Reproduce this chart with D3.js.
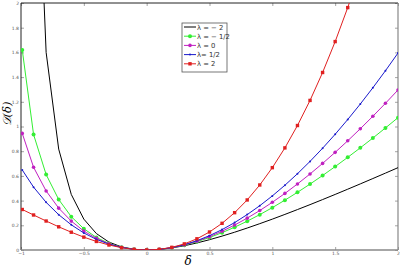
<!DOCTYPE html>
<html>
<head>
<meta charset="utf-8">
<script src="https://cdn.jsdelivr.net/npm/d3@7"></script>
<style>
  body { margin: 0; background: #fff; }
  .tick text { fill: #555; font-family: "DejaVu Sans", sans-serif; font-size: 4.5px; }
</style>
</head>
<body>
<div class="chart"></div>
<script>
var delta = [-0.99, -0.9, -0.8, -0.7, -0.6, -0.5, -0.4, -0.3, -0.2, -0.1, 0,
             0.1, 0.2, 0.3, 0.4, 0.5, 0.6, 0.7, 0.8, 0.9, 1.0,
             1.1, 1.2, 1.3, 1.4, 1.5, 1.6, 1.7, 1.8, 1.9, 2.0];

var lamM2 = [49.0, 4.05, 1.6, 0.817, 0.45, 0.25, 0.133, 0.064, 0.025, 0.0056, 0,
             0.0045, 0.0167, 0.0346, 0.0571, 0.0833, 0.1125, 0.1441, 0.1778, 0.2132, 0.25,
             0.2881, 0.3273, 0.3674, 0.4083, 0.45, 0.4923, 0.5352, 0.5786, 0.6224, 0.6667];

var lamMHalf = [1.62, 0.935, 0.611, 0.409, 0.270, 0.172, 0.102, 0.053, 0.022, 0.0053, 0,
                0.0048, 0.0182, 0.0393, 0.0671, 0.101, 0.1404, 0.1846, 0.2334, 0.2864, 0.3431,
                0.4035, 0.467, 0.5337, 0.6032, 0.6754, 0.7502, 0.8273, 0.9067, 0.9882, 1.0718];

var lam0 = [0.944, 0.670, 0.478, 0.339, 0.234, 0.153, 0.094, 0.050, 0.0215, 0.0052, 0,
            0.0048, 0.0188, 0.0411, 0.0711, 0.1082, 0.152, 0.2021, 0.258, 0.3195, 0.3863,
            0.4581, 0.5346, 0.6157, 0.7011, 0.7907, 0.8843, 0.9818, 1.0829, 1.1877, 1.2958];

var lamHalf = [0.648, 0.509, 0.386, 0.286, 0.204, 0.138, 0.086, 0.0475, 0.0207, 0.0051, 0,
               0.0049, 0.0194, 0.043, 0.0753, 0.1162, 0.1651, 0.222, 0.2866, 0.3586, 0.4379,
               0.5243, 0.6175, 0.7175, 0.8241, 0.9371, 1.0565, 1.1821, 1.3137, 1.4514, 1.5949];

var lam2 = [0.328, 0.2835, 0.2347, 0.1878, 0.144, 0.1042, 0.0693, 0.0405, 0.0187, 0.0048, 0,
            0.0052, 0.0213, 0.0495, 0.0907, 0.1458, 0.216, 0.3022, 0.4053, 0.5265, 0.6667,
            0.8268, 1.008, 1.2112, 1.4373, 1.6875, 1.9627, 2.2638, 2.592, 2.9482, 3.3333];

var seriesNames = ["λ = − 2", "λ = − 1/2", "λ = 0", "λ= 1/2", "λ = 2"];
var xTicks = [-1, -0.5, 0, 0.5, 1, 1.5, 2];
var yTicks = [0, 0.2, 0.4, 0.6, 0.8, 1, 1.2, 1.4, 1.6, 1.8, 2];

var series = [
  { name: seriesNames[0], values: lamM2,    color: "#000000", marker: "none" },
  { name: seriesNames[1], values: lamMHalf, color: "#33ee33", marker: "circle", r: 2 },
  { name: seriesNames[2], values: lam0,     color: "#c020c0", marker: "circle", r: 1.8 },
  { name: seriesNames[3], values: lamHalf,  color: "#1a1acc", marker: "circle", r: 1 },
  { name: seriesNames[4], values: lam2,     color: "#e02020", marker: "square", r: 1.7 }
];

var width = 400, height = 267;

var x = d3.scaleLinear().domain([-1, 2]).range([21, 398]);
var y = d3.scaleLinear().domain([0, 2]).range([250, 3]);

var svg = d3.select(".chart").append("svg")
            .attr("width", width)
            .attr("height", height);

svg.append("defs").append("clipPath")
   .attr("id", "plot")
   .append("rect")
   .attr("x", x(-1)).attr("y", y(2))
   .attr("width", x(2) - x(-1)).attr("height", y(0) - y(2));

// axes with inward ticks on all four sides
svg.append("g")
   .attr("transform", "translate(0," + y(0) + ")")
   .call(d3.axisBottom(x).tickValues(xTicks).tickSizeInner(-3).tickSizeOuter(0).tickPadding(2).tickFormat(d3.format("")))
   .call(function(g) { g.select(".domain").remove(); g.selectAll("line").attr("stroke", "#666").attr("stroke-width", 0.6); });

svg.append("g")
   .attr("transform", "translate(" + x(-1) + ",0)")
   .call(d3.axisLeft(y).tickValues(yTicks).tickSizeInner(-3).tickSizeOuter(0).tickPadding(2).tickFormat(d3.format("")))
   .call(function(g) { g.select(".domain").remove(); g.selectAll("line").attr("stroke", "#666").attr("stroke-width", 0.6); });

svg.append("g")
   .attr("transform", "translate(0," + y(2) + ")")
   .call(d3.axisTop(x).tickValues(xTicks).tickSizeInner(-3).tickSizeOuter(0).tickFormat(""))
   .call(function(g) { g.select(".domain").remove(); g.selectAll("line").attr("stroke", "#666").attr("stroke-width", 0.6); });

svg.append("g")
   .attr("transform", "translate(" + x(2) + ",0)")
   .call(d3.axisRight(y).tickValues(yTicks).tickSizeInner(-3).tickSizeOuter(0).tickFormat(""))
   .call(function(g) { g.select(".domain").remove(); g.selectAll("line").attr("stroke", "#666").attr("stroke-width", 0.6); });

// box
svg.append("line").attr("x1", x(-1)).attr("x2", x(2)).attr("y1", y(2)).attr("y2", y(2))
   .attr("stroke", "#222").attr("stroke-width", 1);
svg.append("line").attr("x1", x(-1)).attr("x2", x(-1)).attr("y1", y(2)).attr("y2", y(0))
   .attr("stroke", "#222").attr("stroke-width", 1);
svg.append("line").attr("x1", x(-1)).attr("x2", x(2)).attr("y1", y(0)).attr("y2", y(0))
   .attr("stroke", "#888").attr("stroke-width", 1.6);
svg.append("line").attr("x1", x(2)).attr("x2", x(2)).attr("y1", y(2)).attr("y2", y(0))
   .attr("stroke", "#888").attr("stroke-width", 1.2);

var line = d3.line()
             .x(function(d, i) { return x(delta[i]); })
             .y(function(d) { return y(d); });

var plot = svg.append("g").attr("clip-path", "url(#plot)");

series.forEach(function(s) {
  plot.append("path")
      .datum(s.values)
      .attr("fill", "none")
      .attr("stroke", s.color)
      .attr("stroke-width", 1)
      .attr("d", line);

  if (s.marker == "circle") {
    plot.selectAll(null)
        .data(s.values)
        .enter().append("circle")
        .attr("cx", function(d, i) { return x(delta[i]); })
        .attr("cy", function(d) { return y(d); })
        .attr("r", s.r)
        .attr("fill", s.color);
  } else if (s.marker == "square") {
    plot.selectAll(null)
        .data(s.values)
        .enter().append("rect")
        .attr("x", function(d, i) { return x(delta[i]) - s.r; })
        .attr("y", function(d) { return y(d) - s.r; })
        .attr("width", s.r * 2)
        .attr("height", s.r * 2)
        .attr("fill", s.color);
  }
});

// axis labels
svg.append("text")
   .attr("x", 188).attr("y", 265)
   .attr("text-anchor", "middle")
   .style("font-family", "'DejaVu Serif', serif")
   .style("font-style", "italic")
   .style("font-size", "12px")
   .text("δ");

svg.append("text")
   .attr("transform", "translate(11,114) rotate(-90)")
   .attr("text-anchor", "middle")
   .style("font-family", "'DejaVu Serif', serif")
   .style("font-style", "italic")
   .style("font-size", "11.5px")
   .text("𝒟(δ)");

// legend
var legend = svg.append("g").attr("transform", "translate(182,23)");
legend.append("rect")
      .attr("width", 45).attr("height", 49)
      .attr("fill", "#fff").attr("stroke", "#555").attr("stroke-width", 0.8);

series.forEach(function(s, i) {
  var ly = 4 + i * 9.2;
  legend.append("line")
        .attr("x1", 2).attr("x2", 14).attr("y1", ly).attr("y2", ly)
        .attr("stroke", s.color).attr("stroke-width", 1);
  if (s.marker == "circle") {
    legend.append("circle").attr("cx", 8).attr("cy", ly).attr("r", s.r).attr("fill", s.color);
  } else if (s.marker == "square") {
    legend.append("rect").attr("x", 8 - s.r).attr("y", ly - s.r)
          .attr("width", s.r * 2).attr("height", s.r * 2).attr("fill", s.color);
  }
  legend.append("text")
        .attr("x", 15).attr("y", ly + 2.5)
        .style("font-family", "'DejaVu Sans', sans-serif")
        .style("font-size", "6.8px")
        .attr("fill", "#333")
        .text(s.name);
});
</script>
</body>
</html>
